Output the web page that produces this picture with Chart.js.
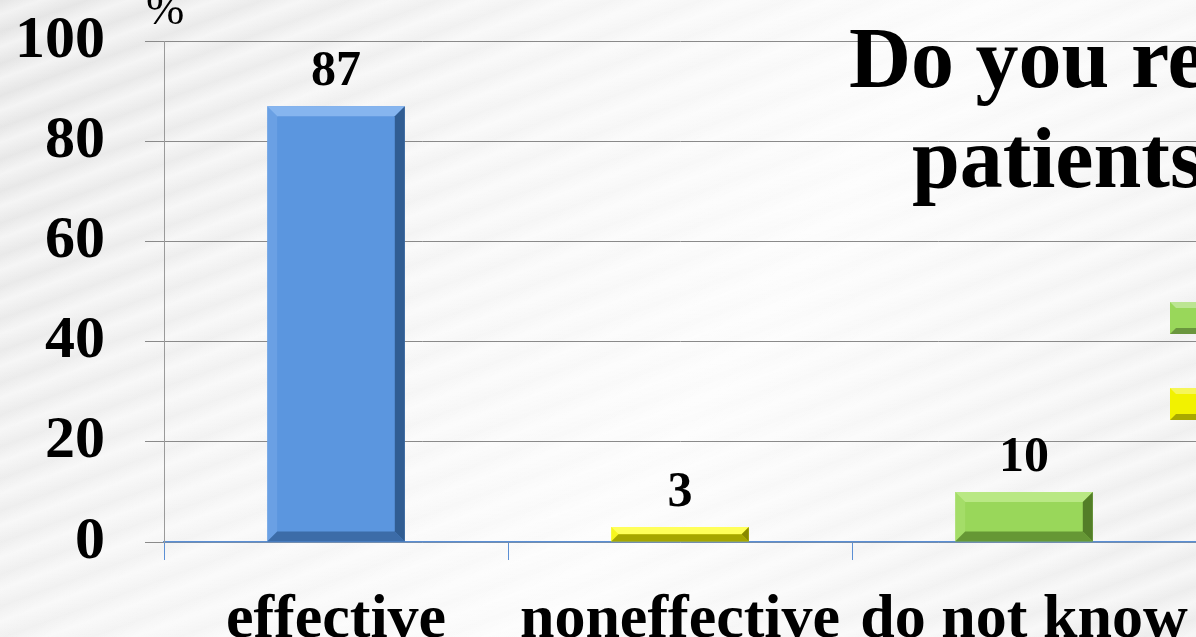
<!DOCTYPE html>
<html>
<head>
<meta charset="utf-8">
<title>Effectiveness</title>
<script src="https://cdn.jsdelivr.net/npm/chart.js@4.4.1/dist/chart.umd.min.js"></script>
<style>
  html, body {
    margin: 0;
    padding: 0;
    width: 1196px;
    height: 637px;
    overflow: hidden;
  }
  body {
    background-color: #eeeeee;
    background-image:
      repeating-linear-gradient(160deg, rgba(255,255,255,0) 0px, rgba(255,255,255,0.55) 14px, rgba(255,255,255,0) 30px),
      linear-gradient(125deg, #e4e4e4 0%, #f4f4f4 35%, #fbfbfb 60%, #ececec 100%);
  }
  #wrap {
    position: absolute;
    left: 0;
    top: 0;
    width: 1196px;
    height: 700px;
  }
</style>
</head>
<body>
<div id="wrap"><canvas id="chart" width="1196" height="700"></canvas></div>
<script>
// ---- data ----
const categories = ["effective", "noneffective", "do not know"];
const percents = [87, 3, 10];
const barColors = ["#5b96df", "#f2f200", "#99d75a"];
const barLight = ["#86b5ef", "#ffff5a", "#b9e884"];
const barDark = ["#2c568a", "#7d7d00", "#4b7422"];
const yTicks = [0, 20, 40, 60, 80, 100];
const titleLines = ["Do you recommend", "patients?"];
const legendColors = ["#99d75a", "#f2f200"];

const SERIF = "'Liberation Serif', 'Times New Roman', serif";

// bevelled look for the bars, drawn on top of each bar element
const bevelPlugin = {
  id: "bevel",
  afterDatasetsDraw(chart) {
    const ctx = chart.ctx;
    chart.getDatasetMeta(0).data.forEach((bar, i) => {
      const l = bar.x - bar.width / 2;
      const r = bar.x + bar.width / 2;
      const t = bar.y;
      const b = bar.base;
      const s = Math.min(10, (b - t) / 2);
      ctx.save();
      // top
      ctx.fillStyle = barLight[i];
      ctx.beginPath();
      ctx.moveTo(l, t); ctx.lineTo(r, t); ctx.lineTo(r - s, t + s); ctx.lineTo(l + s, t + s);
      ctx.fill();
      // left
      ctx.globalAlpha = 0.35;
      ctx.beginPath();
      ctx.moveTo(l, t); ctx.lineTo(l + s, t + s); ctx.lineTo(l + s, b - s); ctx.lineTo(l, b);
      ctx.fill();
      // right
      ctx.globalAlpha = 0.9;
      ctx.fillStyle = barDark[i];
      ctx.beginPath();
      ctx.moveTo(r, t); ctx.lineTo(r, b); ctx.lineTo(r - s, b - s); ctx.lineTo(r - s, t + s);
      ctx.fill();
      // bottom
      ctx.globalAlpha = 0.65;
      ctx.beginPath();
      ctx.moveTo(l, b); ctx.lineTo(r, b); ctx.lineTo(r - s, b - s); ctx.lineTo(l + s, b - s);
      ctx.fill();
      ctx.restore();
    });
  },
};

// value labels above bars, "%" unit, title text and the cut-off legend keys
const textPlugin = {
  id: "texts",
  afterDraw(chart) {
    const ctx = chart.ctx;
    const area = chart.chartArea;
    ctx.save();
    ctx.fillStyle = "#000";
    ctx.textAlign = "center";
    ctx.textBaseline = "alphabetic";
    ctx.font = "bold 50px " + SERIF;
    chart.getDatasetMeta(0).data.forEach((bar, i) => {
      ctx.fillText(String(percents[i]), bar.x, bar.y - 21);
    });

    ctx.font = "normal 46px " + SERIF;
    ctx.textAlign = "left";
    ctx.fillText("%", area.left - 18, 24);

    ctx.font = "bold 86px " + SERIF;
    ctx.fillText(titleLines[0], 849, 87);
    ctx.fillText(titleLines[1], 912, 187);

    // legend keys (partly outside the picture)
    const keys = [318, 404];
    keys.forEach((cy, i) => {
      const x = 1170, y = cy - 16, w = 40, h = 32, s = 6;
      ctx.fillStyle = legendColors[i];
      ctx.fillRect(x, y, w, h);
      ctx.fillStyle = "rgba(255,255,255,0.35)";
      ctx.beginPath();
      ctx.moveTo(x, y); ctx.lineTo(x + w, y); ctx.lineTo(x + w - s, y + s); ctx.lineTo(x + s, y + s);
      ctx.fill();
      ctx.fillStyle = "rgba(0,0,0,0.3)";
      ctx.beginPath();
      ctx.moveTo(x, y + h); ctx.lineTo(x + w, y + h); ctx.lineTo(x + w - s, y + h - s); ctx.lineTo(x + s, y + h - s);
      ctx.fill();
    });
    ctx.restore();
  },
};

new Chart(document.getElementById("chart"), {
  type: "bar",
  data: {
    labels: categories,
    datasets: [
      {
        data: percents,
        backgroundColor: barColors,
        borderWidth: 0,
        barPercentage: 0.4,
        categoryPercentage: 1,
      },
    ],
  },
  options: {
    responsive: false,
    animation: false,
    events: [],
    layout: { padding: { top: 41, left: 0, right: 0, bottom: 0 } },
    plugins: {
      legend: { display: false },
      tooltip: { enabled: false },
    },
    scales: {
      x: {
        offset: true,
        afterFit: (scale) => {
          scale.height = 158;
          scale.paddingLeft = 0;
          scale.paddingRight = 0;
        },
        grid: {
          offset: true,
          drawOnChartArea: false,
          drawTicks: true,
          tickLength: 18,
          color: "#5b8fd4",
        },
        border: { color: "#5b8fd4", width: 1.5 },
        ticks: {
          color: "#000",
          font: { family: SERIF, size: 62, weight: "bold" },
          padding: 24,
          maxRotation: 0,
          autoSkip: false,
        },
      },
      y: {
        min: 0,
        max: 100,
        afterFit: (scale) => {
          scale.width = 164;
          scale.paddingTop = 0;
          scale.paddingBottom = 0;
        },
        afterBuildTicks: (scale) => {
          scale.ticks = yTicks.map((v) => ({ value: v }));
        },
        grid: {
          color: "#8a8a8a",
          lineWidth: 1,
          tickLength: 19,
        },
        border: { color: "#9a9a9a", width: 1 },
        ticks: {
          color: "#000",
          font: { family: SERIF, size: 60, weight: "bold" },
          padding: 40,
          autoSkip: false,
        },
      },
    },
  },
  plugins: [bevelPlugin, textPlugin],
});
</script>
</body>
</html>
